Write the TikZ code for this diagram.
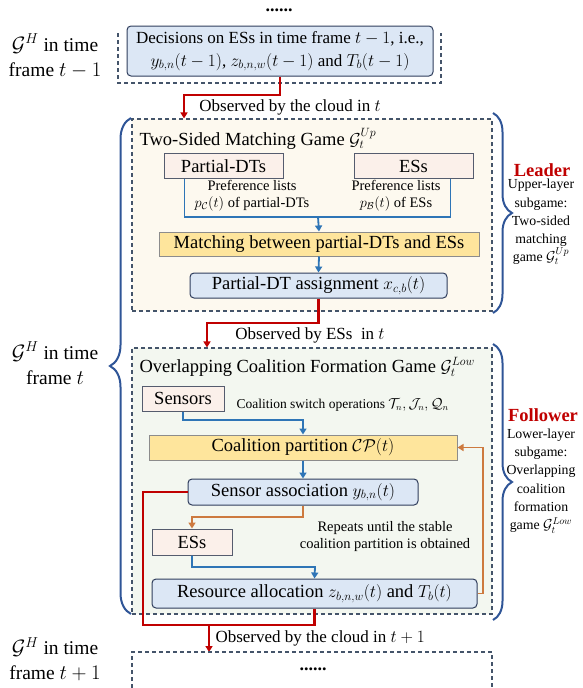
\documentclass[tikz,border=0pt]{standalone}
\usepackage{fontspec}
\setmainfont{Liberation Serif}
\usetikzlibrary{decorations.pathreplacing,arrows.meta,calc}

\definecolor{lblue}{HTML}{DCE7F5}
\definecolor{boxline}{HTML}{2F3D5C}
\definecolor{lpink}{HTML}{FBF0EA}
\definecolor{pinkline}{HTML}{555C6E}
\definecolor{lyellow}{HTML}{FEE59C}
\definecolor{yline}{HTML}{8C8C8C}
\definecolor{cream}{HTML}{FDF9EF}
\definecolor{lgreen}{HTML}{F3F7F0}
\definecolor{dashc}{HTML}{44546A}
\definecolor{cblue}{HTML}{2E75B6}
\definecolor{cred}{HTML}{C00000}
\definecolor{corange}{HTML}{CD7A3F}
\definecolor{bracec}{HTML}{2F5597}

\newcommand\fs[2]{\fontsize{#1}{#2}\selectfont}

\begin{document}
\begin{tikzpicture}[x=1pt,y=-1pt,
  box/.style={draw=boxline, line width=1pt, inner sep=0pt, font=\fs{18.5}{21}},
  bluebox/.style={box, rounded corners=4pt, fill=lblue},
  pinkbox/.style={box, fill=lpink, draw=pinkline},
  yellowbox/.style={box, fill=lyellow, draw=yline},
  dashbox/.style={draw=dashc, line width=1.1pt, dash pattern=on 4pt off 3pt, inner sep=0pt},
  dashline/.style={draw=dashc, line width=1.1pt, dash pattern=on 4pt off 3pt},
  tip/.style={-{Triangle[length=6pt,width=7pt]}},
  bline/.style={draw=cblue, line width=1.8pt},
  bflow/.style={bline, tip},
  oline/.style={draw=corange, line width=1.8pt},
  oflow/.style={oline, tip},
  rline/.style={draw=cred, line width=2.2pt},
  rflow/.style={rline, tip},
  bracestyle/.style={draw=bracec, line width=2pt, decorate},
  sidelabel/.style={align=center, font=\fs{19.5}{25}},
  note/.style={align=center, font=\fs{14.5}{17}},
  sidenote/.style={align=center, font=\fs{13.8}{18.2}},
  role/.style={font=\fs{18.5}{20}\bfseries, text=cred},
  dots/.style={font=\fs{18}{20}\bfseries, anchor=base, inner sep=0pt, text height=3pt, text depth=0pt}
]
\useasboundingbox (0,0) rectangle (583,688);

% ---------- time frame t-1 ----------
\node[dots] (dotsA) at (279,11) {......};
\draw[dashline] (118,33) |- (441,83) -- (441,33);
\node[bluebox, minimum width=306, minimum height=50, align=center, font=\fs{17}{23}] (dec) at (280,51)
  {Decisions on ESs in time frame $t-1$, i.e.,\\ $y_{b,n}(t-1)$, $z_{b,n,w}(t-1)$ and $T_b(t-1)$};
\node[sidelabel] (lblA) at (55,56) {$\mathcal{G}^H$ in time\\frame $t-1$};

% ---------- upper-layer subgame ----------
\node[dashbox, fill=cream, minimum width=360, minimum height=192] (up) at (312,215) {};
\coordinate (r1) at (184,95);
\draw[rflow] (dec.south) |- (r1) -- (r1 |- up.north);
\node[font=\fs{17}{20}] (obsA) at (290,107) {Observed by the cloud in $t$};

\node[anchor=west, font=\fs{18.5}{20}] (titleUp) at (136,139) {Two-Sided Matching Game $\mathcal{G}_t^{Up}$};
\node[pinkbox, minimum width=119, minimum height=25] (pdt) at (223.5,166) {Partial-DTs};
\node[pinkbox, minimum width=119, minimum height=25] (ess) at (413.5,166) {ESs};
\node[note] (prefC) at (252,196) {Preference lists\\$p_{\mathcal{C}}(t)$ of partial-DTs};
\node[note] (prefB) at (396,196) {Preference lists\\$p_{\mathcal{B}}(t)$ of ESs};
\node[yellowbox, minimum width=320, minimum height=24] (match) at (319,244) {Matching between partial-DTs and ESs};
\node[bluebox, minimum width=257, minimum height=25] (pas) at (318.5,285.5) {Partial-DT assignment $x_{c,b}(t)$};

\coordinate (j1) at (318,217);
\draw[bline] ([xshift=21pt]pdt.south west) |- (j1) -| ([xshift=-23pt]ess.south east);
\draw[bflow] (j1) -- (match.north);
\draw[bflow] (match.south) -- (pas.north);

% ---------- lower-layer subgame ----------
\node[dashbox, fill=lgreen, minimum width=360, minimum height=266] (low) at (312,481) {};
\coordinate (r2) at (207,323);
\draw[rflow] (pas.south) |- (r2) -- (r2 |- low.north);
\node[font=\fs{17}{20}] (obsB) at (310,335) {Observed by ESs~ in $t$};

\node[anchor=west, font=\fs{18.5}{20}] (titleLow) at (136,367) {Overlapping Coalition Formation Game $\mathcal{G}_t^{Low}$};
\node[pinkbox, minimum width=82, minimum height=25] (sens) at (183,398.5) {Sensors};
\node[anchor=west, font=\fs{13.5}{16}] (csw) at (233,405) {Coalition switch operations $\mathcal{T}_n, \mathcal{J}_n, \mathcal{Q}_n$};
\node[yellowbox, minimum width=308, minimum height=25] (cp) at (303,447.5) {Coalition partition $\mathcal{CP}(t)$};
\node[bluebox, minimum width=230, minimum height=26] (sa) at (303,492) {Sensor association $y_{b,n}(t)$};
\node[pinkbox, minimum width=80, minimum height=26] (es2) at (192,542) {ESs};
\node[note] (rep) at (385,537) {Repeats until the stable\\coalition partition is obtained};
\node[bluebox, minimum width=325, minimum height=29] (ra) at (314.5,593.5) {Resource allocation $z_{b,n,w}(t)$ and $T_b(t)$};

\coordinate (j2) at (303,420);
\draw[bflow] (sens.south) |- (j2) -- (cp.north);
\draw[bflow] (cp.south) -- (sa.north);
\coordinate (j3) at (192,517);
\draw[oflow] (sa.south) |- (j3) -- (es2.north);
\coordinate (j4) at (315,567);
\draw[bflow] (es2.south) |- (j4) -- (ra.north);
\coordinate (j5) at (483,520);
\draw[oflow] (ra.east) -- (ra.east -| j5) -- (j5 |- cp.east) -- (cp.east);

% ---------- result passed to the next time frame ----------
\coordinate (r3) at (143,625);
\draw[rline] (sa.west) -| (r3) -| (ra.south);
\coordinate (r4) at (209,625);
\coordinate (bt) at (312,652);
\draw[rflow] (r4) -- (r4 |- bt);
\node[anchor=west, font=\fs{17}{20}] (obsC) at (212,638) {Observed by the cloud in $t+1$};

\draw[dashline] (132,688) |- (492,652) -- (492,688);
\node[dots] (dotsB) at (313,670) {......};

% ---------- braces and side labels ----------
\draw[bracestyle, decoration={brace, amplitude=21pt}] (131,614) -- (131,118);
\node[sidelabel] (lblB) at (55,363) {$\mathcal{G}^H$ in time\\frame $t$};
\node[sidelabel] (lblC) at (55,659) {$\mathcal{G}^H$ in time\\frame $t+1$};

\draw[bracestyle, decoration={brace, amplitude=19pt}] (493,113) -- (493,313);
\node[role] (leader) at (542,170) {Leader};
\node[sidenote] (upd) at (541,222) {Upper-layer\\subgame:\\Two-sided\\matching\\game $\mathcal{G}_t^{Up}$};

\draw[bracestyle, decoration={brace, amplitude=19pt}] (493,344) -- (493,620);
\node[role] (follower) at (543,415) {Follower};
\node[sidenote] (lowd) at (541,481) {Lower-layer\\subgame:\\Overlapping\\coalition\\formation\\game $\mathcal{G}_t^{Low}$};
\end{tikzpicture}
\end{document}
